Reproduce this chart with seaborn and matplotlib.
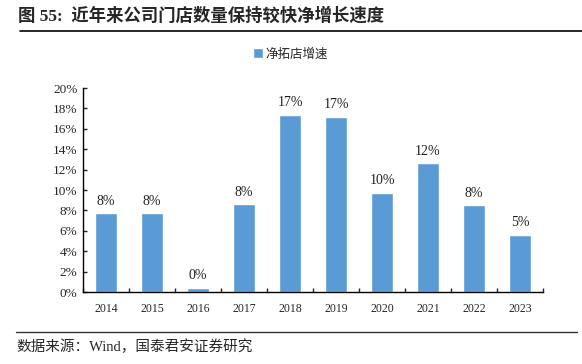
import matplotlib
matplotlib.use("Agg")
import matplotlib.pyplot as plt
import seaborn as sns
import pandas as pd
from matplotlib.lines import Line2D
from matplotlib.patches import Patch
from matplotlib.ticker import FixedLocator, PercentFormatter

years = ["2014", "2015", "2016", "2017", "2018", "2019", "2020", "2021", "2022", "2023"]
growth = [7.7, 7.7, 0.4, 8.6, 17.4, 17.2, 9.7, 12.6, 8.5, 5.6]
bar_labels = ["8%", "8%", "0%", "8%", "17%", "17%", "10%", "12%", "8%", "5%"]
series_name = "净拓店增速"

df = pd.DataFrame({"year": years, "growth": growth})

sns.set_style("white")
plt.rcParams["font.family"] = ["Liberation Serif", "Noto Sans CJK SC"]
cjk = ["Noto Sans CJK SC", "DejaVu Sans"]
mixed = ["Liberation Serif", "Noto Sans CJK SC"]
blue = "#5B9BD5"

fig = plt.figure(figsize=(5.82, 3.64), dpi=100)
ax = fig.add_axes([0.1426, 0.1978, 0.7904, 0.5604])

sns.barplot(data=df, x="year", y="growth", color=blue, width=0.47,
            saturation=1, ax=ax)

for i, (v, t) in enumerate(zip(growth, bar_labels)):
    ax.text(i, v + 0.55, t, ha="center", va="bottom", fontsize=10,
            color="#222222")

ax.set_xlim(-0.5, 9.5)
ax.set_ylim(0, 20)
ax.set_yticks(range(0, 21, 2))
ax.yaxis.set_major_formatter(PercentFormatter(decimals=0))
ax.set_xlabel("")
ax.set_ylabel("")

for s in ["top", "right"]:
    ax.spines[s].set_visible(False)
for s in ["left", "bottom"]:
    ax.spines[s].set_color("black")
    ax.spines[s].set_linewidth(1.0)

ax.tick_params(axis="y", direction="in", length=3, width=1, labelsize=9.5,
               left=True, pad=4)
ax.tick_params(axis="x", which="major", length=0, labelsize=8.5, pad=8)
ax.xaxis.set_minor_locator(FixedLocator([i + 0.5 for i in range(-1, 10)]))
ax.tick_params(axis="x", which="minor", direction="in", length=3, width=1,
               bottom=True)

ax.legend(handles=[Patch(facecolor=blue, label=series_name)],
          loc="center", bbox_to_anchor=(290 / 582, 1 - 54 / 364),
          bbox_transform=fig.transFigure, frameon=False,
          prop={"family": cjk, "size": 9}, handlelength=0.8,
          handleheight=0.8, handletextpad=0.2)

fig.text(18 / 582, 1 - 16 / 364, "图 55:  近年来公司门店数量保持较快净增长速度",
         family=mixed, fontsize=12.5, fontweight="bold", va="center", ha="left")
fig.add_artist(Line2D([20 / 582, 1.0], [1 - 31 / 364] * 2, color="black",
                      lw=1.2, transform=fig.transFigure))
fig.add_artist(Line2D([16 / 582, 577 / 582], [1 - 332 / 364] * 2,
                      color="#333333", lw=1.0, transform=fig.transFigure))
fig.text(16 / 582, 1 - 347 / 364, "数据来源：Wind，国泰君安证券研究",
         family=mixed, fontsize=10.5, va="center", ha="left")

fig.savefig("out.png", dpi=100)
